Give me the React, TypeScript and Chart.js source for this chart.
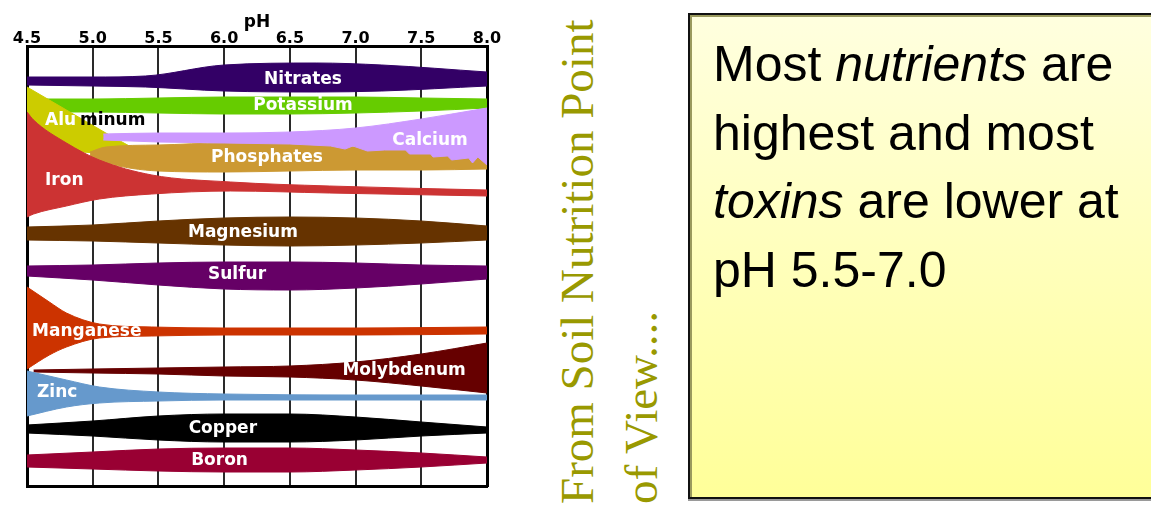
import React, { useEffect, useRef } from 'react';
import { Chart, registerables } from 'chart.js';
Chart.register(...registerables);

// pH tick labels along the top axis
const phTicks = [4.5, 5.0, 5.5, 6.0, 6.5, 7.0, 7.5, 8.0];
const stdPH = [4.5, 5.0, 5.5, 6.0, 6.5, 7.0, 7.5, 8.0];

// Band edges (vertical position in chart units, 0 = top of plot, 440 = bottom)
const nitratesPH = [4.5, 5.0, 5.4, 6.0, 6.7, 7.2, 8.0];
const nitratesTop = [31, 31, 30, 19, 17, 19, 26];
const nitratesBottom = [39, 40, 41, 45, 46, 45, 40];

const potassiumPH = stdPH;
const potassiumTop = [53, 53, 52, 51, 51, 51, 52, 53];
const potassiumBottom = [66, 66, 67, 68, 68, 67, 65, 62];

const aluminumPH = [4.5, 4.8, 5.1, 5.32];
const aluminumTop = [41, 64, 87, 103];
const aluminumBottom = [94, 104, 107, 105];

const phosphatesPH = [4.98, 5.1, 5.5, 6.0, 6.5, 7.0, 7.5, 8.0];
const phosphatesTop = [106, 101, 99, 97, 98, 101, 105, 109];
const phosphatesBottom = [111, 117, 125, 126, 125, 124, 124, 123];

const calciumPH = [5.08, 5.5, 6.0, 6.5, 7.0, 7.5, 8.0];
const calciumTop = [88, 87, 87, 86, 82, 73, 62];
const calciumEdgePH = [5.08, 5.5, 6.0, 6.5, 6.81, 6.92, 6.98, 7.09, 7.22, 7.38, 7.41, 7.57, 7.59, 7.7, 7.73, 7.86, 7.89, 7.93, 8.0];
const calciumBottom = [94, 96, 97, 98, 100, 103, 100, 105, 104, 104, 108, 108, 111, 110, 114, 112, 117, 111, 119];

const ironPH = [4.5, 4.55, 4.8, 5.05, 5.45, 6.05, 6.8, 8.0];
const ironTop = [66, 74, 97, 114, 129, 136, 140, 144];
const ironBottom = [171, 168, 160, 153, 148, 145, 147, 150];

const magnesiumPH = stdPH;
const magnesiumTop = [181, 179, 175, 172, 171, 172, 175, 180];
const magnesiumBottom = [194, 195, 197, 199, 200, 199, 197, 194];

const sulfurPH = stdPH;
const sulfurTop = [220, 219, 217, 216, 216, 217, 219, 220];
const sulfurBottom = [230, 234, 239, 243, 244, 242, 238, 233];

const manganesePH = [4.5, 4.67, 4.8, 5.05, 5.45, 6.0, 7.0, 8.0];
const manganeseTop = [241, 256, 267, 278, 281, 282, 282, 281];
const manganeseBottom = [323, 309, 301, 292, 290, 289, 289, 288];

const molybdenumPH = [4.55, 5.0, 5.5, 6.0, 6.5, 7.0, 7.5, 8.0];
const molybdenumTop = [324, 323, 322, 321, 320, 316, 308, 297];
const molybdenumBottom = [326, 327, 328, 330, 331, 334, 340, 347];

const zincPH = [4.5, 4.8, 5.05, 5.5, 6.0, 7.0, 8.0];
const zincTop = [325, 334, 341, 346, 348, 349, 349];
const zincBottom = [370, 361, 357, 355, 354, 354, 354];

const copperPH = stdPH;
const copperTop = [379, 375, 370, 368, 368, 371, 376, 381];
const copperBottom = [387, 390, 394, 396, 396, 394, 390, 387];

const boronPH = stdPH;
const boronTop = [409, 406, 403, 402, 402, 404, 407, 411];
const boronBottom = [421, 423, 425, 426, 426, 424, 421, 417];

// Band labels
const labelTexts = ['Nitrates', 'Potassium', 'Alu', 'minum', 'Calcium', 'Phosphates', 'Iron', 'Magnesium', 'Sulfur', 'Manganese', 'Molybdenum', 'Zinc', 'Copper', 'Boron'];
const labelPH = [6.6, 6.6, 4.637, 4.903, 7.566, 6.326, 4.637, 6.143, 6.098, 4.538, 7.369, 4.576, 5.99, 5.965];
const labelLevel = [34, 60, 75, 75, 95, 112, 135, 187, 229, 286, 325, 347, 383, 415];
const labelAlign = ['center', 'center', 'left', 'left', 'center', 'center', 'left', 'center', 'center', 'left', 'center', 'left', 'center', 'center'];
const labelColors = ['#fff', '#fff', '#fff', '#000', '#fff', '#fff', '#fff', '#fff', '#fff', '#fff', '#fff', '#fff', '#fff', '#fff'];

// drawn bottom -> top
const bands = [
  { name: 'Nitrates', color: '#330066', topPH: nitratesPH, top: nitratesTop, botPH: nitratesPH, bottom: nitratesBottom },
  { name: 'Potassium', color: '#66cc00', topPH: potassiumPH, top: potassiumTop, botPH: potassiumPH, bottom: potassiumBottom },
  { name: 'Aluminum', color: '#cccc00', topPH: aluminumPH, top: aluminumTop, botPH: aluminumPH, bottom: aluminumBottom },
  { name: 'Phosphates', color: '#cc9933', topPH: phosphatesPH, top: phosphatesTop, botPH: phosphatesPH, bottom: phosphatesBottom },
  { name: 'Calcium', color: '#cc99ff', topPH: calciumPH, top: calciumTop, botPH: calciumEdgePH, bottom: calciumBottom, jagged: true },
  { name: 'Iron', color: '#cc3333', topPH: ironPH, top: ironTop, botPH: ironPH, bottom: ironBottom },
  { name: 'Magnesium', color: '#663300', topPH: magnesiumPH, top: magnesiumTop, botPH: magnesiumPH, bottom: magnesiumBottom },
  { name: 'Sulfur', color: '#660066', topPH: sulfurPH, top: sulfurTop, botPH: sulfurPH, bottom: sulfurBottom },
  { name: 'Manganese', color: '#cc3300', topPH: manganesePH, top: manganeseTop, botPH: manganesePH, bottom: manganeseBottom },
  { name: 'Molybdenum', color: '#660000', topPH: molybdenumPH, top: molybdenumTop, botPH: molybdenumPH, bottom: molybdenumBottom },
  { name: 'Zinc', color: '#6699cc', topPH: zincPH, top: zincTop, botPH: zincPH, bottom: zincBottom },
  { name: 'Copper', color: '#000000', topPH: copperPH, top: copperTop, botPH: copperPH, bottom: copperBottom },
  { name: 'Boron', color: '#990033', topPH: boronPH, top: boronTop, botPH: boronPH, bottom: boronBottom },
];

const labelPlugin = {
  id: 'bandLabels',
  afterDatasetsDraw(chart: any) {
    const { ctx, scales } = chart;
    const x = scales.x;
    const y = scales.y;
    ctx.save();
    ctx.font = 'bold 17px "DejaVu Sans"';
    ctx.textBaseline = 'middle';
    labelTexts.forEach((t, i) => {
      ctx.fillStyle = labelColors[i];
      ctx.textAlign = labelAlign[i];
      ctx.fillText(t, x.getPixelForValue(labelPH[i]), y.getPixelForValue(labelLevel[i]));
    });
    ctx.restore();
  },
};

function buildDatasets() {
  const ds: any[] = [];
  bands.forEach((b: any, i) => {
    const order = bands.length - i;
    ds.push({
      label: b.name + ' upper',
      data: b.topPH.map((v: number, k: number) => ({ x: v, y: b.top[k] })),
      borderColor: b.color,
      borderWidth: 1,
      pointRadius: 0,
      fill: false,
      cubicInterpolationMode: 'monotone',
      order,
    });
    ds.push({
      label: b.name,
      data: b.botPH.map((v: number, k: number) => ({ x: v, y: b.bottom[k] })),
      borderColor: b.color,
      borderWidth: 1,
      pointRadius: 0,
      fill: '-1',
      backgroundColor: b.color,
      cubicInterpolationMode: b.jagged ? 'default' : 'monotone',
      tension: 0,
      order,
    });
  });
  return ds;
}

const edgeAxis = (position: string, horizontal: boolean, min: number, max: number, reverse = false) => ({
  type: 'linear',
  position,
  min,
  max,
  reverse,
  ticks: { display: false },
  grid: { drawOnChartArea: false, drawTicks: false },
  border: { color: '#000', width: 3 },
  afterFit: (s: any) => {
    if (horizontal) s.height = 0;
    else s.width = 0;
  },
});

export default function App() {
  const ref = useRef<HTMLCanvasElement>(null);
  useEffect(() => {
    const chart = new Chart(ref.current as HTMLCanvasElement, {
      type: 'line',
      data: { datasets: buildDatasets() },
      plugins: [labelPlugin],
      options: {
        animation: false,
        responsive: false,
        events: [],
        layout: { padding: { left: 27, right: 53, top: 0, bottom: 20 } },
        plugins: { legend: { display: false }, tooltip: { enabled: false } },
        scales: {
          x: {
            type: 'linear',
            position: 'top',
            min: 4.5,
            max: 8.0,
            afterBuildTicks: (s: any) => {
              s.ticks = phTicks.map((v) => ({ value: v }));
            },
            ticks: {
              callback: (v: any) => Number(v).toFixed(1),
              font: { family: 'DejaVu Sans', weight: 'bold', size: 16 },
              color: '#000',
              padding: -2,
              maxRotation: 0,
              autoSkip: false,
            },
            grid: { color: '#2a2a2a', lineWidth: 2, drawTicks: false },
            border: { color: '#000', width: 3 },
            title: {
              display: true,
              text: 'pH',
              color: '#000',
              font: { family: 'DejaVu Sans', weight: 'bold', size: 17 },
              padding: { top: 12, bottom: 0 },
            },
            afterFit: (s: any) => {
              s.height = 46;
            },
          } as any,
          y: edgeAxis('left', false, 0, 440, true) as any,
          x2: edgeAxis('bottom', true, 4.5, 8.0) as any,
          y2: edgeAxis('right', false, 0, 440, true) as any,
        },
      } as any,
    });
    return () => chart.destroy();
  }, []);

  return (
    <div style={{ position: 'absolute', left: 0, top: 0, width: 1151, height: 506, overflow: 'hidden', background: '#fff' }}>
      <canvas ref={ref} width={540} height={506} style={{ position: 'absolute', left: 0, top: 0, width: 540, height: 506 }} />
      <div
        style={{
          position: 'absolute',
          left: 545,
          top: 504,
          transform: 'rotate(-90deg)',
          transformOrigin: '0 0',
          fontFamily: '"Liberation Serif", serif',
          fontSize: 47,
          lineHeight: '64px',
          color: '#999900',
          whiteSpace: 'nowrap',
        }}
      >
        From Soil Nutrition Point
        <br />
        of View....
      </div>
      <div
        style={{
          position: 'absolute',
          left: 688,
          top: 13,
          width: 500,
          height: 486,
          boxSizing: 'border-box',
          borderLeft: '2px solid #111',
          borderTop: '2px solid #111',
          borderBottom: '2px solid #111',
          background: 'linear-gradient(to bottom, #ffffdf, #ffff99)',
          boxShadow: 'inset 2px 2px 0 #9a9a5e, 0 2px 0 #9a9a9a',
        }}
      />
      <div
        style={{
          position: 'absolute',
          left: 713,
          top: 30,
          fontFamily: '"Liberation Sans", Arial, sans-serif',
          fontSize: 50,
          lineHeight: '68.5px',
          color: '#000',
          whiteSpace: 'nowrap',
        }}
      >
        Most <i>nutrients</i> are
        <br />
        highest and most
        <br />
        <i>toxins</i> are lower at
        <br />
        pH 5.5-7.0
      </div>
    </div>
  );
}
